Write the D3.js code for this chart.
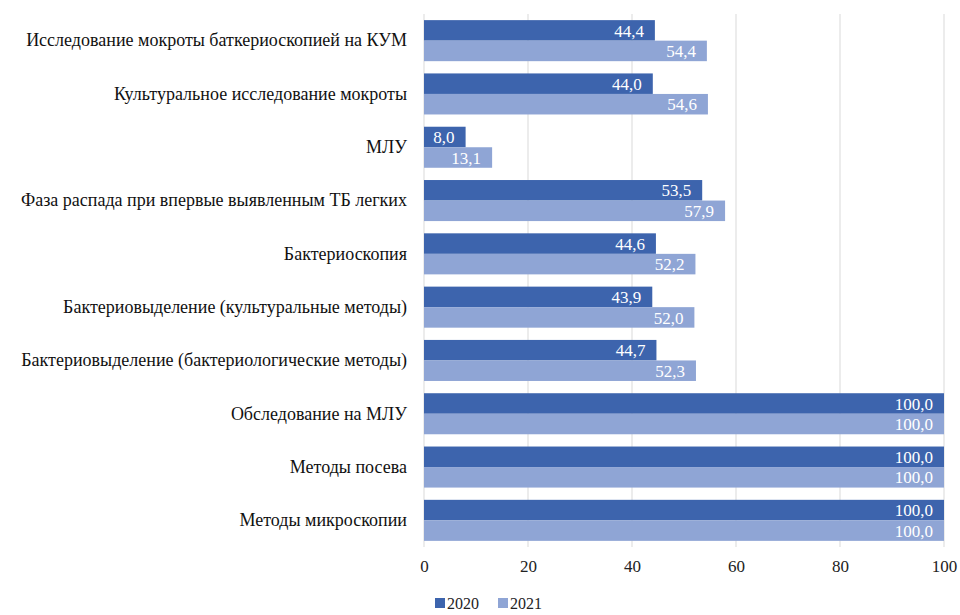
<!DOCTYPE html>
<html>
<head>
<meta charset="utf-8">
<script src="https://cdn.jsdelivr.net/npm/d3@7"></script>
<style>
  body { margin: 0; background: #fff; }
  svg { display: block; }
</style>
</head>
<body>
<svg id="chart" width="960" height="615"></svg>
<script>
const categories = [
  "Исследование мокроты баткериоскопией на КУМ",
  "Культуральное исследование мокроты",
  "МЛУ",
  "Фаза распада при впервые выявленным ТБ легких",
  "Бактериоскопия",
  "Бактериовыделение (культуральные методы)",
  "Бактериовыделение (бактериологические методы)",
  "Обследование на МЛУ",
  "Методы посева",
  "Методы микроскопии"
];
const values2020 = [44.4, 44.0, 8.0, 53.5, 44.6, 43.9, 44.7, 100.0, 100.0, 100.0];
const values2021 = [54.4, 54.6, 13.1, 57.9, 52.2, 52.0, 52.3, 100.0, 100.0, 100.0];
const seriesNames = ["2020", "2021"];
const seriesColors = ["#3d64ad", "#8fa5d5"];
const xTicks = [0, 20, 40, 60, 80, 100];

const FONT = "'Liberation Serif', 'Times New Roman', 'DejaVu Serif', serif";

const svg = d3.select("#chart");
const margin = { left: 424, right: 16, top: 14, bottom: 68 };
const W = 960, H = 615;

const x = d3.scaleLinear().domain([0, 100]).range([margin.left, W - margin.right]);
const y = d3.scaleBand().domain(categories).range([margin.top, H - margin.bottom]).paddingInner(0.23).paddingOuter(0.115);
const ySub = d3.scaleBand().domain(seriesNames).range([0, y.bandwidth()]);

// vertical gridlines
svg.append("g")
  .selectAll("line")
  .data(xTicks)
  .join("line")
  .attr("x1", d => x(d)).attr("x2", d => x(d))
  .attr("y1", margin.top).attr("y2", H - margin.bottom)
  .attr("stroke", "#d9d9d9").attr("stroke-width", 1);

// x axis tick labels
const xAxis = d3.axisBottom(x).tickValues(xTicks).tickSize(0).tickPadding(13);
const gx = svg.append("g").attr("transform", `translate(0,${H - margin.bottom})`).call(xAxis);
gx.select(".domain").remove();
gx.selectAll("text").style("font-family", FONT).style("font-size", "17px").attr("fill", "#222");

// category labels
const yAxis = d3.axisLeft(y).tickSize(0).tickPadding(17);
const gy = svg.append("g").attr("transform", `translate(${margin.left},0)`).call(yAxis);
gy.select(".domain").remove();
gy.selectAll("text").style("font-family", FONT).style("font-size", "18px").attr("fill", "#111");

const rows = categories.map((c, i) => ({
  cat: c,
  items: [
    { s: "2020", v: values2020[i], color: seriesColors[0] },
    { s: "2021", v: values2021[i], color: seriesColors[1] }
  ]
}));

const fmt = v => v.toFixed(1).replace(".", ",");

const groups = svg.append("g").selectAll("g")
  .data(rows)
  .join("g")
  .attr("transform", d => `translate(0,${y(d.cat)})`);

groups.selectAll("rect")
  .data(d => d.items)
  .join("rect")
  .attr("x", x(0))
  .attr("y", d => ySub(d.s))
  .attr("width", d => x(d.v) - x(0))
  .attr("height", ySub.bandwidth())
  .attr("fill", d => d.color);

// value labels at the inner end of each bar
groups.selectAll("text")
  .data(d => d.items)
  .join("text")
  .attr("x", d => x(d.v) - 11)
  .attr("y", d => ySub(d.s) + ySub.bandwidth() / 2)
  .attr("dy", "0.36em")
  .attr("text-anchor", "end")
  .style("font-family", FONT)
  .style("font-size", "17px")
  .attr("fill", "#fff")
  .text(d => fmt(d.v));

// legend
const legend = svg.append("g").attr("transform", "translate(435,603)");
const legItems = legend.selectAll("g")
  .data(seriesNames)
  .join("g")
  .attr("transform", (d, i) => `translate(${i * 63},0)`);
legItems.append("rect")
  .attr("x", 0).attr("y", -5).attr("width", 10).attr("height", 10)
  .attr("fill", (d, i) => seriesColors[i]);
legItems.append("text")
  .attr("x", 12).attr("y", 0).attr("dy", "0.36em")
  .style("font-family", FONT)
  .style("font-size", "16px")
  .attr("fill", "#222")
  .text(d => d);
</script>
</body>
</html>
